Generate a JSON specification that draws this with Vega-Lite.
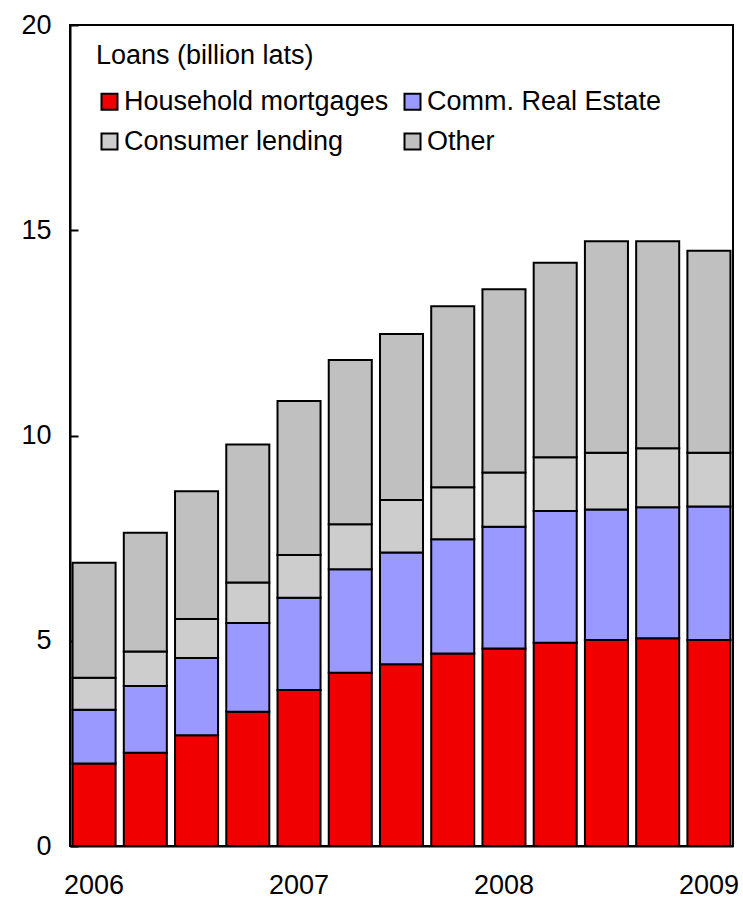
{
  "$schema": "https://vega.github.io/schema/vega-lite/v6.json",
  "width": 663,
  "height": 821,
  "autosize": {"type": "none"},
  "padding": {"left": 70, "top": 25, "right": 10, "bottom": 57},
  "background": "white",
  "config": {
    "font": "Liberation Sans",
    "view": {"stroke": "black", "strokeWidth": 2},
    "axis": {"labelFont": "Liberation Sans", "labelFontSize": 27, "labelColor": "black", "domainColor": "black", "tickColor": "black", "domainWidth": 2, "tickWidth": 2, "grid": false, "title": null}
  },
  "data": {
    "values": [
      {"quarter": "2006Q1", "series": "Household mortgages", "value": 2.01},
      {"quarter": "2006Q1", "series": "Comm. Real Estate", "value": 1.31},
      {"quarter": "2006Q1", "series": "Consumer lending", "value": 0.78},
      {"quarter": "2006Q1", "series": "Other", "value": 2.80},
      {"quarter": "2006Q2", "series": "Household mortgages", "value": 2.27},
      {"quarter": "2006Q2", "series": "Comm. Real Estate", "value": 1.63},
      {"quarter": "2006Q2", "series": "Consumer lending", "value": 0.84},
      {"quarter": "2006Q2", "series": "Other", "value": 2.89},
      {"quarter": "2006Q3", "series": "Household mortgages", "value": 2.70},
      {"quarter": "2006Q3", "series": "Comm. Real Estate", "value": 1.88},
      {"quarter": "2006Q3", "series": "Consumer lending", "value": 0.95},
      {"quarter": "2006Q3", "series": "Other", "value": 3.11},
      {"quarter": "2006Q4", "series": "Household mortgages", "value": 3.27},
      {"quarter": "2006Q4", "series": "Comm. Real Estate", "value": 2.16},
      {"quarter": "2006Q4", "series": "Consumer lending", "value": 0.99},
      {"quarter": "2006Q4", "series": "Other", "value": 3.36},
      {"quarter": "2007Q1", "series": "Household mortgages", "value": 3.80},
      {"quarter": "2007Q1", "series": "Comm. Real Estate", "value": 2.25},
      {"quarter": "2007Q1", "series": "Consumer lending", "value": 1.04},
      {"quarter": "2007Q1", "series": "Other", "value": 3.75},
      {"quarter": "2007Q2", "series": "Household mortgages", "value": 4.22},
      {"quarter": "2007Q2", "series": "Comm. Real Estate", "value": 2.52},
      {"quarter": "2007Q2", "series": "Consumer lending", "value": 1.10},
      {"quarter": "2007Q2", "series": "Other", "value": 4.00},
      {"quarter": "2007Q3", "series": "Household mortgages", "value": 4.43},
      {"quarter": "2007Q3", "series": "Comm. Real Estate", "value": 2.72},
      {"quarter": "2007Q3", "series": "Consumer lending", "value": 1.28},
      {"quarter": "2007Q3", "series": "Other", "value": 4.04},
      {"quarter": "2007Q4", "series": "Household mortgages", "value": 4.69},
      {"quarter": "2007Q4", "series": "Comm. Real Estate", "value": 2.78},
      {"quarter": "2007Q4", "series": "Consumer lending", "value": 1.27},
      {"quarter": "2007Q4", "series": "Other", "value": 4.41},
      {"quarter": "2008Q1", "series": "Household mortgages", "value": 4.81},
      {"quarter": "2008Q1", "series": "Comm. Real Estate", "value": 2.97},
      {"quarter": "2008Q1", "series": "Consumer lending", "value": 1.32},
      {"quarter": "2008Q1", "series": "Other", "value": 4.46},
      {"quarter": "2008Q2", "series": "Household mortgages", "value": 4.95},
      {"quarter": "2008Q2", "series": "Comm. Real Estate", "value": 3.21},
      {"quarter": "2008Q2", "series": "Consumer lending", "value": 1.31},
      {"quarter": "2008Q2", "series": "Other", "value": 4.74},
      {"quarter": "2008Q3", "series": "Household mortgages", "value": 5.02},
      {"quarter": "2008Q3", "series": "Comm. Real Estate", "value": 3.18},
      {"quarter": "2008Q3", "series": "Consumer lending", "value": 1.38},
      {"quarter": "2008Q3", "series": "Other", "value": 5.15},
      {"quarter": "2008Q4", "series": "Household mortgages", "value": 5.06},
      {"quarter": "2008Q4", "series": "Comm. Real Estate", "value": 3.19},
      {"quarter": "2008Q4", "series": "Consumer lending", "value": 1.44},
      {"quarter": "2008Q4", "series": "Other", "value": 5.04},
      {"quarter": "2009Q1", "series": "Household mortgages", "value": 5.02},
      {"quarter": "2009Q1", "series": "Comm. Real Estate", "value": 3.25},
      {"quarter": "2009Q1", "series": "Consumer lending", "value": 1.31},
      {"quarter": "2009Q1", "series": "Other", "value": 4.92}
    ]
  },
  "transform": [
    {"calculate": "datum.series === 'Household mortgages' ? 0 : (datum.series === 'Comm. Real Estate' ? 1 : (datum.series === 'Consumer lending' ? 2 : 3))", "as": "stackOrder"}
  ],
  "mark": {"type": "bar", "stroke": "black", "strokeWidth": 2},
  "encoding": {
    "x": {
      "field": "quarter",
      "type": "ordinal",
      "scale": {"paddingInner": 0.16, "paddingOuter": 0.05},
      "axis": {
        "labelAngle": 0,
        "labelExpr": "indexof(datum.value, 'Q1') > 0 ? substring(datum.value, 0, 4) : ''",
        "ticks": false,
        "labelPadding": 26,
        "domain": true
      }
    },
    "y": {
      "field": "value",
      "type": "quantitative",
      "stack": "zero",
      "scale": {"domain": [0, 20], "nice": false},
      "axis": {"values": [0, 5, 10, 15, 20], "tickSize": -8, "labelPadding": 27}
    },
    "order": {"field": "stackOrder", "type": "quantitative", "sort": "ascending"},
    "color": {
      "field": "series",
      "type": "nominal",
      "sort": ["Household mortgages", "Comm. Real Estate", "Consumer lending", "Other"],
      "scale": {
        "range": ["#f00000", "#9999ff", "#cdcdcd", "#c0c0c0"]
      },
      "legend": {
        "title": "Loans (billion lats)",
        "orient": "none",
        "legendX": 26,
        "legendY": 18,
        "direction": "horizontal",
        "columns": 2,
        "columnPadding": 10,
        "rowPadding": 12,
        "padding": 0,
        "titleFont": "Liberation Sans",
        "titleFontSize": 27,
        "titleFontWeight": "normal",
        "titleColor": "black",
        "titlePadding": 18,
        "titleLimit": 500,
        "labelFont": "Liberation Sans",
        "labelFontSize": 27,
        "labelColor": "black",
        "labelOffset": 1,
        "labelLimit": 400,
        "symbolType": "square",
        "symbolSize": 256,
        "symbolStrokeColor": "black",
        "symbolStrokeWidth": 2,
        "symbolOpacity": 1
      }
    }
  }
}
